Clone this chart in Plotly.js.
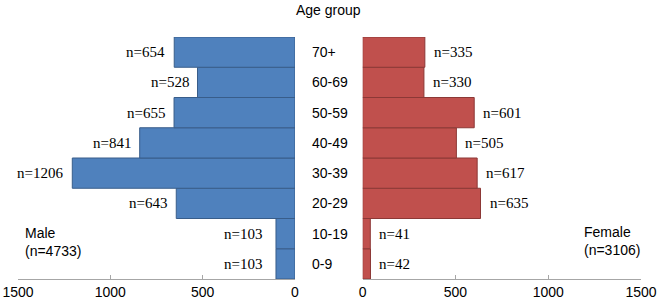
<!DOCTYPE html>
<html>
<head>
<meta charset="utf-8">
<script src="https://cdn.plot.ly/plotly-3.0.1.min.js"></script>
<style>html,body{margin:0;padding:0;background:#fff}#chart{width:658px;height:302px}</style>
</head>
<body>
<div id="chart"></div>
<script>
var ageGroups = ["0-9", "10-19", "20-29", "30-39", "40-49", "50-59", "60-69", "70+"];
var maleCounts = [103, 103, 643, 1206, 841, 655, 528, 654];
var femaleCounts = [42, 41, 635, 617, 505, 601, 330, 335];
var maleLabel = "Male<br>(n=4733)";
var femaleLabel = "Female<br>(n=3106)";
var titleText = "Age group";
var tickVals = [0, 500, 1000, 1500];

var male = {
  type: "bar", orientation: "h",
  y: ageGroups, x: maleCounts,
  xaxis: "x", yaxis: "y",
  marker: {color: "#4F81BD", line: {color: "#385D8A", width: 1}},
  hoverinfo: "skip"
};
var female = {
  type: "bar", orientation: "h",
  y: ageGroups, x: femaleCounts,
  xaxis: "x2", yaxis: "y2",
  marker: {color: "#C0504D", line: {color: "#8C3836", width: 1}},
  hoverinfo: "skip"
};

var annotations = [];
for (var i = 0; i < ageGroups.length; i++) {
  annotations.push({
    x: maleCounts[i], y: ageGroups[i], xref: "x", yref: "y",
    text: "n=" + maleCounts[i], showarrow: false,
    xanchor: "right", xshift: (maleCounts[i] < 200 ? -12 : -7),
    font: {family: "Liberation Serif, Times New Roman, serif", size: 15, color: "#000"}
  });
  annotations.push({
    x: femaleCounts[i], y: ageGroups[i], xref: "x2", yref: "y2",
    text: "n=" + femaleCounts[i], showarrow: false,
    xanchor: "left", xshift: 7,
    font: {family: "Liberation Serif, Times New Roman, serif", size: 15, color: "#000"}
  });
  annotations.push({
    x: (310 - 18) / 623, y: ageGroups[i], xref: "paper", yref: "y",
    text: ageGroups[i], showarrow: false, xanchor: "left",
    font: {family: "Liberation Sans, Arial, sans-serif", size: 14, color: "#000"}
  });
}
annotations.push({
  x: (23 - 18) / 623, y: (279 - 242) / 242, xref: "paper", yref: "paper",
  text: maleLabel, showarrow: false, xanchor: "left", yanchor: "middle", align: "left",
  font: {family: "Liberation Sans, Arial, sans-serif", size: 14, color: "#000"}
});
annotations.push({
  x: (582 - 18) / 623, y: (279 - 241) / 242, xref: "paper", yref: "paper",
  text: femaleLabel, showarrow: false, xanchor: "left", yanchor: "middle", align: "left",
  font: {family: "Liberation Sans, Arial, sans-serif", size: 14, color: "#000"}
});
annotations.push({
  x: (328 - 18) / 623, y: 1 + (37 - 10) / 242, xref: "paper", yref: "paper",
  text: titleText, showarrow: false, xanchor: "center", yanchor: "middle",
  font: {family: "Liberation Sans, Arial, sans-serif", size: 14, color: "#000"}
});

var axisCommon = {
  showgrid: false, zeroline: false, showline: true, linecolor: "#A6A6A6", linewidth: 1,
  ticks: "inside", ticklen: 4, tickcolor: "#A6A6A6", tickvals: tickVals,
  tickfont: {family: "Liberation Sans, Arial, sans-serif", size: 14, color: "#000"},
  fixedrange: true
};

var layout = {
  width: 658, height: 302,
  margin: {l: 18, r: 17, t: 37, b: 23},
  paper_bgcolor: "#fff", plot_bgcolor: "#fff",
  showlegend: false, bargap: 0,
  xaxis: Object.assign({}, axisCommon, {domain: [0, 277 / 623], range: [1500, 0]}),
  xaxis2: Object.assign({}, axisCommon, {domain: [(362.7 - 18) / 623, 1], range: [0, 1500]}),
  yaxis: {domain: [0, 1], range: [-0.5, 7.5], showticklabels: false, showgrid: false, zeroline: false, showline: false, ticks: "", type: "category", categoryorder: "array", categoryarray: ageGroups},
  yaxis2: {domain: [0, 1], range: [-0.5, 7.5], anchor: "x2", showticklabels: false, showgrid: false, zeroline: false, showline: false, ticks: "", type: "category", categoryorder: "array", categoryarray: ageGroups},
  annotations: annotations
};
layout.yaxis.anchor = "x";

Plotly.newPlot("chart", [male, female], layout, {displayModeBar: false, staticPlot: true});
</script>
</body>
</html>
